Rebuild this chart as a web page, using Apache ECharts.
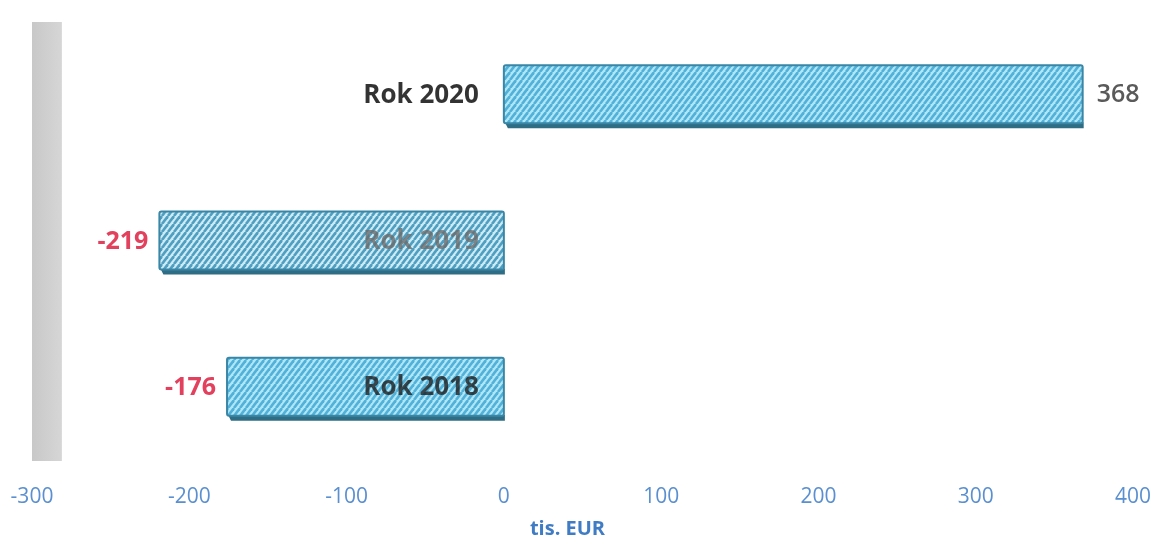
<!DOCTYPE html>
<html>
<head>
<meta charset="utf-8">
<script src="https://cdn.jsdelivr.net/npm/echarts@6/dist/echarts.min.js"></script>
<style>
html,body{margin:0;padding:0;background:#fff;}
#chart{width:1157px;height:541px;}
</style>
</head>
<body>
<div id="chart"></div>
<script>
var categories = ['Rok 2018', 'Rok 2019', 'Rok 2020'];
var values = [-176, -219, 368];
var categoryLabelColors = ['#1e1e1e', '#6a6a6a', '#000000'];
var valueLabelColors = ['#e2405c', '#e2405c', '#5a5a5a'];
var axisMin = -300, axisMax = 400, axisStep = 100;
var axisName = 'tis. EUR';

function makePattern(bg, stripe, lw) {
  var w = 6, h = 8;
  var c = document.createElement('canvas');
  c.width = w; c.height = h;
  var ctx = c.getContext('2d');
  ctx.fillStyle = bg;
  ctx.fillRect(0, 0, w, h);
  ctx.strokeStyle = stripe;
  ctx.lineWidth = lw;
  for (var k = -1; k <= 2; k++) {
    ctx.beginPath();
    ctx.moveTo(k * w - w, h);
    ctx.lineTo(k * w, 0);
    ctx.stroke();
  }
  return c;
}
var patA = makePattern('#b0e7f7', '#52b1d9', 2.6);
var patB = makePattern('#cdebf3', '#4f9fc3', 2.6);
var patterns = [patA, patB, patA];

var chart = echarts.init(document.getElementById('chart'));
var fontFam = '"Open Sans", "Noto Sans", sans-serif';

var barData = values.map(function (v, i) { return [v, i]; });

var catData = categories.map(function (c, i) {
  return { value: [0, c], label: { color: categoryLabelColors[i] } };
});

function renderBar(params, api) {
  var i = params.dataIndex;
  var v = api.value(0);
  var cat = api.value(1);
  var a = api.coord([0, cat]);
  var b = api.coord([v, cat]);
  var bh = 60;
  var x0 = Math.min(a[0], b[0]), x1 = Math.max(a[0], b[0]);
  var y = a[1] - bh / 2;
  var neg = v < 0;
  return {
    type: 'group',
    children: [
      {
        type: 'polygon',
        shape: { points: [[x0 + 1, y + bh - 3], [x1 + 1, y + bh - 3], [x1 + 1, y + bh + 3], [x0 + 4, y + bh + 3]] },
        style: { fill: '#2e6d84' }
      },
      {
        type: 'rect',
        shape: { x: x0, y: y, width: x1 - x0, height: bh - 2, r: 2 },
        style: {
          fill: { image: patterns[i], repeat: 'repeat' },
          stroke: '#3a86a6',
          lineWidth: 2
        }
      },
      {
        type: 'text',
        style: {
          text: String(v),
          x: neg ? x0 - 11 : x1 + 14,
          y: a[1],
          align: neg ? 'right' : 'left',
          verticalAlign: 'middle',
          fill: valueLabelColors[i],
          fontSize: 25,
          fontWeight: neg ? 'bold' : 600,
          fontFamily: fontFam
        }
      }
    ]
  };
}

chart.setOption({
  animation: false,
  backgroundColor: '#ffffff',
  grid: { left: 32, right: 24, top: 22, bottom: 80, outerBoundsMode: 'none', containLabel: false },
  xAxis: {
    type: 'value',
    min: axisMin, max: axisMax, interval: axisStep,
    axisLine: { show: false },
    axisTick: { show: false },
    splitLine: { show: false },
    axisLabel: { color: '#5a8fd0', fontSize: 21, fontFamily: fontFam, margin: 26 },
    name: axisName,
    nameLocation: 'middle',
    nameGap: 58,
    nameTextStyle: { color: '#3f7cc4', fontSize: 20, fontWeight: 'bold', fontFamily: fontFam, padding: [0, 30, 0, 0] }
  },
  yAxis: {
    type: 'category',
    data: categories,
    show: false
  },
  series: [
    {
      type: 'custom',
      data: barData,
      encode: { x: 0, y: 1 },
      renderItem: renderBar,
      clip: false,
      z: 2,
      markArea: {
        silent: true,
        itemStyle: {
          color: {
            type: 'linear', x: 0, y: 0, x2: 1, y2: 0,
            colorStops: [{ offset: 0, color: '#c8c8c8' }, { offset: 1, color: '#d6d6d6' }]
          }
        },
        data: [[{ xAxis: -300 }, { xAxis: -281 }]]
      }
    },
    {
      type: 'scatter',
      data: catData,
      symbolSize: 0,
      silent: true,
      z: 5,
      label: {
        show: true,
        position: 'left',
        distance: 25,
        formatter: function (p) { return p.value[1]; },
        fontSize: 26,
        fontWeight: 'bold',
        fontFamily: fontFam
      }
    }
  ]
});
</script>
</body>
</html>
